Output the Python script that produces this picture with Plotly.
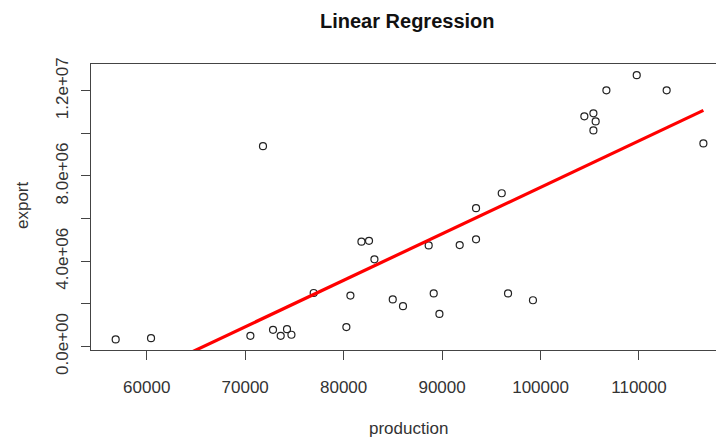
import numpy as np
import plotly.graph_objects as go

# Annual production vs. export observations
production = [
    56850, 60440, 71810, 70530, 72830, 73610, 74250, 74700, 76960, 80280,
    80690, 81810, 82580, 83130, 84990, 86030, 88640, 89150, 89730, 91790,
    93450, 93450, 96060, 96700, 99230, 104450, 105370, 105600, 105370, 106690,
    109770, 112810, 116540,
]
export = [
    0.33e6, 0.39e6, 9.40e6, 0.50e6, 0.78e6, 0.50e6, 0.81e6, 0.55e6, 2.51e6, 0.91e6,
    2.39e6, 4.92e6, 4.96e6, 4.09e6, 2.21e6, 1.89e6, 4.74e6, 2.49e6, 1.53e6, 4.76e6,
    6.49e6, 5.03e6, 7.19e6, 2.49e6, 2.17e6, 10.80e6, 10.94e6, 10.56e6, 10.14e6, 12.02e6,
    12.73e6, 12.02e6, 9.53e6,
]

x_ticks = [60000, 70000, 80000, 90000, 100000, 110000]
x_ticktext = ["60000", "70000", "80000", "90000", "100000", "110000"]
y_ticks = [0, 2e6, 4e6, 6e6, 8e6, 10e6, 12e6]
y_ticktext = ["0.0e+00", "", "4.0e+06", "", "8.0e+06", "", "1.2e+07"]

# Least-squares fit of export on production
slope, intercept = np.polyfit(production, export, 1)
fit_x = np.array([min(production), max(production)])
fit_y = slope * fit_x + intercept

W, H = 716, 440
ML, MT, MB = 91, 64, 90
plot_w = W - ML
plot_h = H - MT - MB

def px_x(p):
    return (p - ML) / plot_w

def px_y(p):
    return (H - MB - p) / plot_h

FONT = "Liberation Sans, Arial, sans-serif"
AXIS_COLOR = "#444444"
TEXT_COLOR = "#333333"

fig = go.Figure()
fig.add_trace(go.Scatter(
    x=production, y=export, mode="markers",
    marker=dict(symbol="circle-open", size=7, color="#222222", line=dict(width=1.2)),
    showlegend=False, hoverinfo="x+y",
))
fig.add_trace(go.Scatter(
    x=fit_x, y=fit_y, mode="lines",
    line=dict(color="#ff0000", width=3.2),
    showlegend=False, hoverinfo="skip",
))

fig.update_layout(
    width=W, height=H,
    margin=dict(l=ML, r=0, t=MT, b=MB, autoexpand=False),
    paper_bgcolor="white", plot_bgcolor="white",
    font=dict(family=FONT, color=TEXT_COLOR, size=17),
    xaxis=dict(
        range=[54343, 117821], tickvals=x_ticks, ticktext=x_ticktext,
        ticks="outside", ticklen=9, tickcolor=AXIS_COLOR, tickwidth=1,
        showline=True, linecolor=AXIS_COLOR, linewidth=1, mirror=True,
        showgrid=False, zeroline=False, ticklabelstandoff=13,
        tickfont=dict(size=17, color=TEXT_COLOR),
    ),
    yaxis=dict(
        range=[-0.165e6, 13.255e6], tickvals=y_ticks, ticktext=y_ticktext,
        tickangle=-90, ticks="outside", ticklen=9, tickcolor=AXIS_COLOR, tickwidth=1,
        showline=True, linecolor=AXIS_COLOR, linewidth=1, mirror=False,
        showgrid=False, zeroline=False, ticklabelstandoff=6,
        tickfont=dict(size=17, color=TEXT_COLOR),
    ),
    annotations=[
        dict(text="<b>Linear Regression</b>", xref="paper", yref="paper",
             x=px_x(407.5), y=px_y(21), xanchor="center", yanchor="middle",
             showarrow=False, font=dict(size=20, color="#111111", family=FONT)),
        dict(text="production", xref="paper", yref="paper",
             x=px_x(408), y=px_y(428), xanchor="center", yanchor="middle",
             showarrow=False, font=dict(size=17, color=TEXT_COLOR, family=FONT)),
        dict(text="export", xref="paper", yref="paper",
             x=px_x(22), y=px_y(205), xanchor="center", yanchor="middle",
             textangle=-90, showarrow=False,
             font=dict(size=17, color=TEXT_COLOR, family=FONT)),
    ],
)

fig.write_html("out.html")
